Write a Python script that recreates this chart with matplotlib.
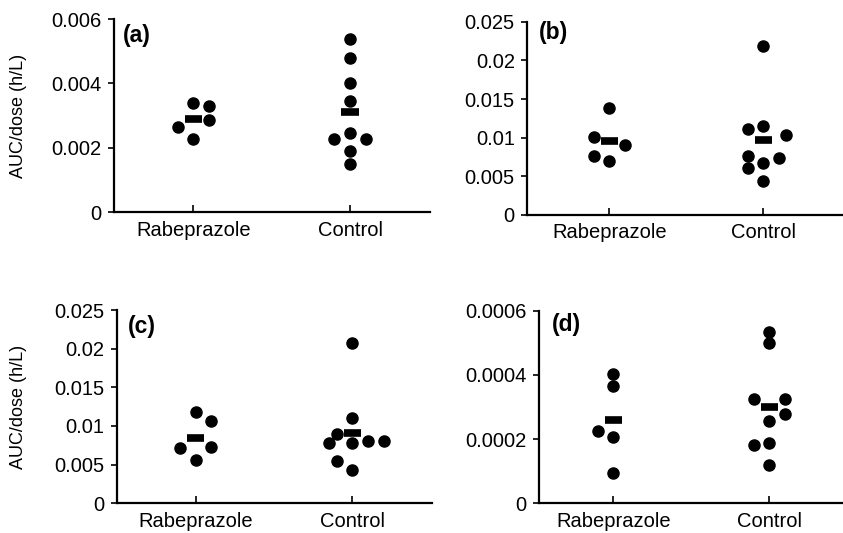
import numpy as np
import matplotlib
matplotlib.use("Agg")
import matplotlib.pyplot as plt

plt.rcParams['font.family'] = ['Liberation Sans', 'DejaVu Sans']

groups = ["Rabeprazole", "Control"]
panel_labels = ["(a)", "(b)", "(c)", "(d)"]

# values
a_rab = [0.00340, 0.00330, 0.00285, 0.00265, 0.00228]
a_con = [0.00538, 0.00479, 0.00402, 0.00344, 0.00247, 0.00226, 0.00226, 0.00191, 0.00149]
b_rab = [0.0139, 0.0101, 0.0090, 0.0076, 0.0070]
b_con = [0.0219, 0.0115, 0.0111, 0.0103, 0.0076, 0.0074, 0.0067, 0.0061, 0.0044]
c_rab = [0.0118, 0.0106, 0.0073, 0.0071, 0.0056]
c_con = [0.0207, 0.0110, 0.0090, 0.00775, 0.00775, 0.0080, 0.0081, 0.0055, 0.0043]
d_rab = [0.000404, 0.000365, 0.000224, 0.000208, 0.000094]
d_con = [0.000533, 0.000499, 0.000325, 0.000325, 0.000279, 0.000257, 0.000181, 0.000189, 0.000119]

# horizontal swarm slots (in dot widths)
a_rab_off = [0, 1, 1, -1, 0]
a_con_off = [0, 0, 0, 0, 0, -1, 1, 0, 0]
b_rab_off = [0, -1, 1, -1, 0]
b_con_off = [0, 0, -1, 1.5, -1, 1, 0, -1, 0]
c_rab_off = [0, 1, 1, -1, 0]
c_con_off = [0, 0, -1, -1.5, 0, 1, 2, -1, 0]
d_rab_off = [0, 0, -1, 0, 0]
d_con_off = [0, 0, -1, 1, 1, 0, -1, 0, 0]

a_ticks = [0, 0.002, 0.004, 0.006]
a_ticklabels = ["0", "0.002", "0.004", "0.006"]
b_ticks = [0, 0.005, 0.01, 0.015, 0.02, 0.025]
b_ticklabels = ["0", "0.005", "0.01", "0.015", "0.02", "0.025"]
d_ticks = [0, 0.0002, 0.0004, 0.0006]
d_ticklabels = ["0", "0.0002", "0.0004", "0.0006"]

ylabel = "AUC/dose (h/L)"

W, H = 843, 533
fig = plt.figure(figsize=(W / 100, H / 100), dpi=100)

def ax_px(left, right, top, bottom):
    return fig.add_axes([left / W, 1 - bottom / H, (right - left) / W, (bottom - top) / H])

panels = [
    dict(box=(114, 430, 19, 212.3), xlim=(-0.506, 1.51), data=(a_rab, a_con), off=(a_rab_off, a_con_off),
         ticks=a_ticks, tl=a_ticklabels, ylab=True, lab_xy=(0.028, 0.916)),
    dict(box=(527.3, 843, 21.7, 215), xlim=(-0.532, 1.517), data=(b_rab, b_con), off=(b_rab_off, b_con_off),
         ticks=b_ticks, tl=b_ticklabels, ylab=False, lab_xy=(0.037, 0.944)),
    dict(box=(116.7, 432, 310, 503.3), xlim=(-0.504, 1.509), data=(c_rab, c_con), off=(c_rab_off, c_con_off),
         ticks=b_ticks, tl=b_ticklabels, ylab=True, lab_xy=(0.036, 0.914)),
    dict(box=(539.3, 843, 310.7, 503.3), xlim=(-0.474, 1.472), data=(d_rab, d_con), off=(d_rab_off, d_con_off),
         ticks=d_ticks, tl=d_ticklabels, ylab=False, lab_xy=(0.041, 0.926)),
]

dot_step = 0.1
bar_half = 0.055

for p, lab in zip(panels, panel_labels):
    ax = ax_px(*p["box"])
    for gi, (vals, offs) in enumerate(zip(p["data"], p["off"])):
        xs = gi + np.array(offs) * dot_step
        ax.plot(xs, vals, 'o', color='black', markersize=8, linestyle='none', zorder=3)
        m = np.mean(vals)
        ax.plot([gi - bar_half, gi + bar_half], [m, m], color='black', lw=5.5,
                solid_capstyle='butt', zorder=4)
    ax.set_xlim(*p["xlim"])
    ax.set_ylim(p["ticks"][0], p["ticks"][-1])
    ax.set_yticks(p["ticks"])
    ax.set_yticklabels(p["tl"])
    ax.set_xticks([0, 1])
    ax.set_xticklabels(groups)
    for s in ["top", "right"]:
        ax.spines[s].set_visible(False)
    for s in ["left", "bottom"]:
        ax.spines[s].set_linewidth(1.6)
    ax.tick_params(axis='y', direction='out', length=4, width=1.2, labelsize=14.5, pad=5)
    ax.tick_params(axis='x', direction='in', length=5, width=1.2, labelsize=14.5, pad=6)
    if p["ylab"]:
        ax.set_ylabel(ylabel, fontsize=13)
    ax.text(p["lab_xy"][0], p["lab_xy"][1], lab, transform=ax.transAxes, fontsize=16.5,
            fontweight='bold', ha='left', va='center')

# align y labels horizontally
for ax in fig.axes:
    if ax.get_ylabel():
        ax.yaxis.set_label_coords((27.5 - ax.get_position().x0 * W) / (ax.get_position().width * W), 0.5)

fig.savefig("out.png", dpi=100)
